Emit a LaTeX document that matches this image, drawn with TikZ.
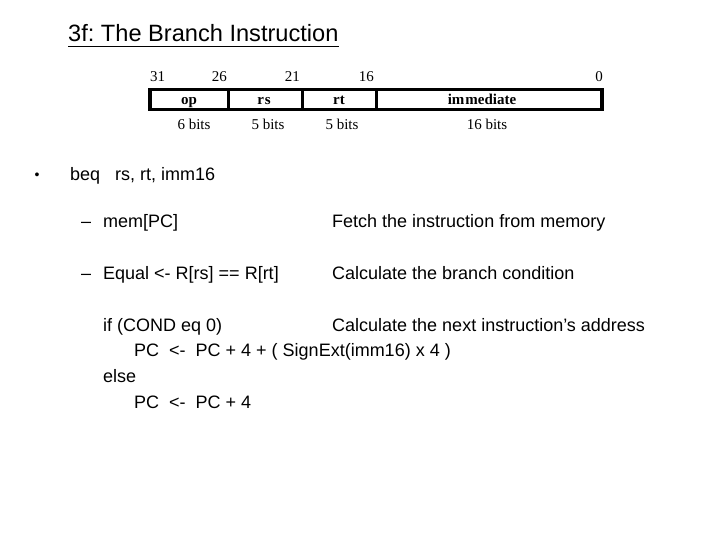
\documentclass[tikz,border=0pt]{standalone}
\usepackage{fontspec}
\setmainfont{Liberation Sans}
\newfontfamily\seriffont{Liberation Serif}
\frenchspacing
\begin{document}
\begin{tikzpicture}[x=1pt,y=-1pt,
  txt/.style={inner sep=0pt,anchor=base west,font=\fontsize{18}{21}\selectfont},
  num/.style={inner sep=0pt,anchor=base east,font=\seriffont\fontsize{15}{17}\selectfont},
  fld/.style={inner sep=0pt,anchor=base,font=\seriffont\bfseries\fontsize{15}{17}\selectfont},
  bits/.style={inner sep=0pt,anchor=base,font=\seriffont\fontsize{15}{17}\selectfont},
  frame/.style={line width=3.5pt}]
\useasboundingbox[fill=white] (0,0) rectangle (720,540);
% title
\node[inner sep=0pt,anchor=base west,font=\fontsize{23.6}{27}\selectfont] (title) at (68,42) {3f: The Branch Instruction};
\draw[line width=1.6pt] ([yshift=-4.5pt]title.base west) -- ([yshift=-4.5pt]title.base east);
% instruction format
\coordinate (b0) at (150,89.5);
\coordinate (b1) at (602,109.5);
\draw[frame] (b0) rectangle (b1);
\coordinate (d1t) at (228,89.5); \coordinate (d1b) at (228,109.5);
\coordinate (d2t) at (302,89.5); \coordinate (d2b) at (302,109.5);
\coordinate (d3t) at (376,89.5); \coordinate (d3b) at (376,109.5);
\draw[line width=3pt] (d1t) -- (d1b);
\draw[line width=3pt] (d2t) -- (d2b);
\draw[line width=3pt] (d3t) -- (d3b);
\node[num,anchor=base west] (n31) at (150,82) {31};
\node[num] (n26) at (227,82) {26};
\node[num] (n21) at (300,82) {21};
\node[num] (n16) at (374,82) {16};
\node[num] (n0) at (603,82) {0};
\node[fld] (fop) at (189,105) {op};
\node[fld] (frs) at (264,105) {r\kern1pt s};
\node[fld] (frt) at (339,105) {rt};
\node[fld] (fimm) at (482,105) {im\kern1pt mediate};
\node[bits] (bop) at (194,130) {6 bits};
\node[bits] (brs) at (268,130) {5 bits};
\node[bits] (brt) at (342,130) {5 bits};
\node[bits] (bimm) at (487,130) {16 bits};
% bullets
\node[txt,font=\fontsize{14}{16}\selectfont] (bul) at (34.5,180) {•};
\node[txt] (beq) at (70,181) {beq\ \ \ rs, rt, imm16};
\node[txt] (d1) at (81,227) {–};
\node[txt] (mem) at (103,227) {mem[PC]};
\node[txt] (fetch) at (332,227) {Fetch the instruction from memory};
\node[txt] (d2) at (81,279) {–};
\node[txt] (eq) at (103,279) {Equal <- R[rs] == R[rt]};
\node[txt] (calc) at (332,279) {Calculate the branch condition};
\node[txt] (if) at (103,331) {if (COND eq 0)};
\node[txt] (next) at (332,331) {Calculate the next instruction’s address};
\node[txt] (pc1) at (134,356) {PC\ \ <-\ \ PC + 4 + ( SignExt(imm16) x 4 )};
\node[txt] (else) at (103,382) {else};
\node[txt] (pc2) at (134,408) {PC\ \ <-\ \ PC + 4};
\end{tikzpicture}
\end{document}
